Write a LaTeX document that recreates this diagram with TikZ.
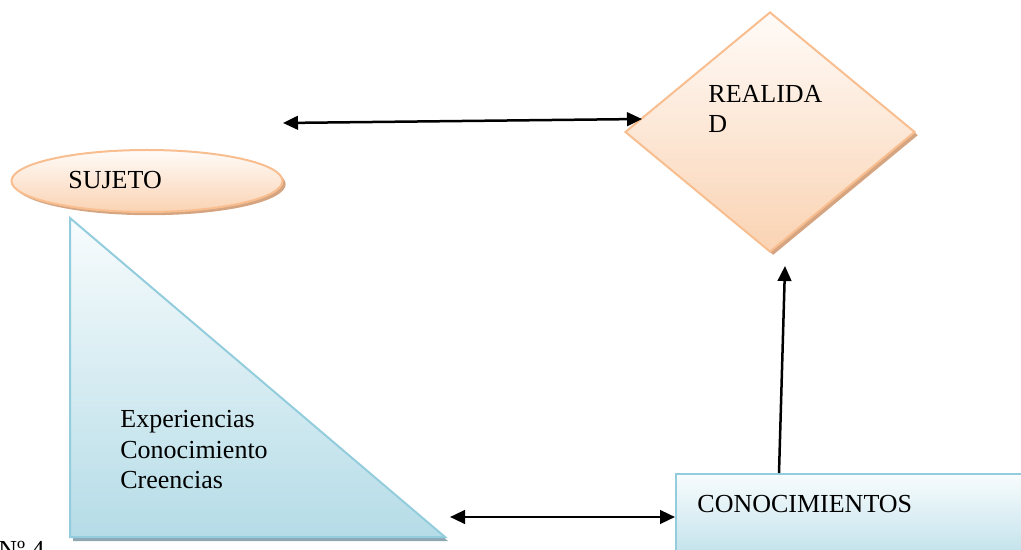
\documentclass[tikz,border=0pt]{standalone}
\usepackage{fontspec}
\setmainfont{Liberation Serif}
\usetikzlibrary{shapes.geometric,arrows.meta,shadows}
\definecolor{peachTop}{HTML}{FFFBF8}
\definecolor{peachBot}{HTML}{FAD3B3}
\definecolor{peachLine}{HTML}{F8BE90}
\definecolor{tanShadow}{HTML}{D5A581}
\definecolor{blueTop}{HTML}{F8FCFD}
\definecolor{blueBot}{HTML}{B5DCE7}
\definecolor{blueLine}{HTML}{93CDDD}
\definecolor{blueShadow}{HTML}{8DA7B3}
\tikzset{
  txt/.style={inner sep=0pt, anchor=base west, font=\fontsize{13}{15}\selectfont},
  peachshape/.style={draw=peachLine, line width=1pt, top color=peachTop, bottom color=peachBot,
    drop shadow={shadow xshift=1.6pt, shadow yshift=-1.6pt, fill=tanShadow, opacity=1}},
  blueshape/.style={draw=blueLine, line width=1pt, top color=blueTop, bottom color=blueBot},
  conn/.style={line width=1.25pt, {Triangle[length=7.5pt,width=6.8pt]}-{Triangle[length=7.5pt,width=6.8pt]}},
  conn1/.style={line width=1.25pt, -{Triangle[length=7.5pt,width=6.8pt]}}
}
\begin{document}
\begin{tikzpicture}[x=0.5pt,y=-0.5pt]
\useasboundingbox (0,0) rectangle (1021,550);
% triangle
\coordinate (t1) at (70,218);
\coordinate (t2) at (70,537);
\coordinate (t3) at (445,537);
\fill[blueShadow] ([shift={(3,4)}]t1) -- ([shift={(3,4)}]t2) -- ([shift={(3,4)}]t3) -- cycle;
\path[blueshape] (t1) -- (t2) -- (t3) -- cycle;
% ellipse
\node[peachshape, ellipse, minimum width=135.5pt, minimum height=31pt, inner sep=0pt] (suj) at (147,181) {};
\node[txt] (sujt) at (68,189) {SUJETO};
% diamond
\node[peachshape, diamond, minimum width=145pt, minimum height=120pt, inner sep=0pt] (real) at (770,132) {};
\node[txt] (realt1) at (708,103) {REALIDA};
\node[txt] (realt2) at (708,133) {D};
% rectangle
\node[blueshape, rectangle, minimum width=200pt, minimum height=50pt, anchor=north west, inner sep=0pt] (con) at (675,473) {};
\node[txt] (cont) at (697,512) {CONOCIMIENTOS};
% triangle text
\node[txt] (e1) at (120,427) {Experiencias};
\node[txt] (e2) at (120,458) {Conocimiento};
\node[txt] (e3) at (120,488) {Creencias};
% caption fragment
\node[txt] (cap) at (-2,558) {Nº 4};
% connectors
\coordinate (ta) at (283,123);
\coordinate (tb) at (642,119);
\draw[conn] (ta) -- (tb);
\coordinate (ba) at (450,517);
\coordinate (bb) at (675,517);
\draw[conn] (ba) -- (bb);
\coordinate (va) at (779,473);
\coordinate (vb) at (785,266);
\draw[conn1] (va) -- (vb);
\end{tikzpicture}
\end{document}
